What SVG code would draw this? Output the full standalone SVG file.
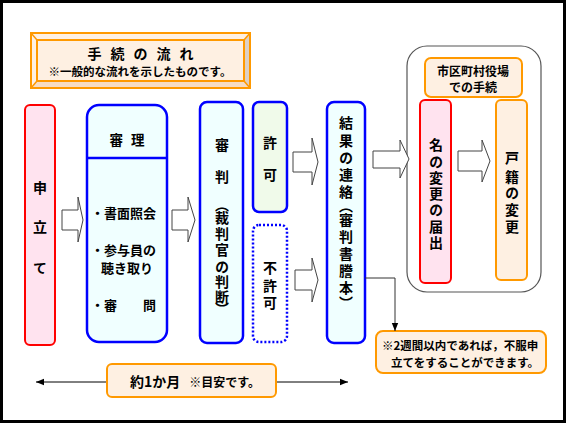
<svg xmlns="http://www.w3.org/2000/svg" width="566" height="424" viewBox="0 0 566 424">
<defs>
<style>
text{font-family:"Noto Sans CJK JP","Noto Sans CJK SC",sans-serif;font-weight:bold;fill:#000}
.v{writing-mode:vertical-rl;text-anchor:middle;font-size:14px}
.h{text-anchor:middle}
.blk{fill:#fff;stroke:#444;stroke-width:1}
.red{fill:#FFE3EF;stroke:#FF0000;stroke-width:2}
.blue{fill:#F0FFFF;stroke:#0000FF;stroke-width:2.5}
.grn{fill:#F0FAEA;stroke:#0000FF;stroke-width:2.5}
.dot{fill:#fff;stroke:#0000FF;stroke-width:2.5;stroke-dasharray:2 2}
.org{fill:#FEF0E2;stroke:#FF9900;stroke-width:2}
</style>
<marker id="ah" viewBox="0 0 10 10" refX="10" refY="5" markerWidth="8" markerHeight="8" markerUnits="userSpaceOnUse" orient="auto-start-reverse"><path d="M0,1 L10,5 L0,9 Z" fill="#000"/></marker>
</defs>
<rect x="1.5" y="1.5" width="563" height="420" fill="#fff" stroke="#000" stroke-width="3"/>

<g id="title">
<rect x="31" y="33" width="219" height="55" fill="#FEF0E2" stroke="#FF9900" stroke-width="2"/>
<polygon points="244,40 250,33 250,88 244,81" fill="#DDD0C4"/>
<polygon points="37,81 244,81 250,88 31,88" fill="#F6DCC4"/>
<rect x="31" y="33" width="219" height="55" fill="none" stroke="#FF9900" stroke-width="2"/>
<rect x="37" y="40" width="207" height="41" fill="none" stroke="#FF9900" stroke-width="2"/>
<path d="M31,33 L37,40 M250,33 L244,40 M31,88 L37,81 M250,88 L244,81" stroke="#FF9900" stroke-width="1.5"/>
<text class="h" x="145" y="59" font-size="14" letter-spacing="9">手続の流れ</text>
<text class="h" x="140" y="76" font-size="11.5">※一般的な流れを示したものです。</text>
</g>

<g id="moushitate">
<rect class="red" x="25" y="105" width="30" height="240" rx="5"/>
<text class="v" x="40" y="188 227 268">申立て</text>
</g>

<g id="shinri">
<rect class="blue" x="87" y="105" width="80" height="237" rx="12"/>
<line x1="87" y1="158" x2="167" y2="158" stroke="#0000FF" stroke-width="2.5"/>
<text class="h" x="131" y="145" font-size="13.5" letter-spacing="8">審理</text>
<text x="91" y="218" font-size="13">・書面照会</text>
<text x="91" y="255" font-size="13">・参与員の</text>
<text x="101" y="273" font-size="13">聴き取り</text>
<text x="91" y="310" font-size="13">・審　　問</text>
</g>

<g id="shinpan">
<rect class="blue" x="200" y="102" width="43" height="241" rx="7"/>
<text class="v" x="222" y="145 177 205 218 234 250 267 282 297 309">審判（裁判官の判断）</text>
</g>

<g id="kyoka">
<rect class="grn" x="253" y="102" width="34" height="110" rx="6"/>
<text class="v" x="270" y="143 175">許可</text>
</g>

<g id="fukyoka">
<rect class="dot" x="253" y="225" width="34" height="117" rx="6"/>
<text class="v" x="270" y="268 286 303">不許可</text>
</g>

<g id="kekka">
<rect class="blue" x="327" y="102" width="38" height="241" rx="7"/>
<text class="v" x="346" y="123 141 158 175 192 206 220 237 254 271 288 303">結果の連絡（審判書謄本）</text>
</g>

<g id="shikuchoson">
<rect x="407" y="46" width="134" height="246" rx="20" fill="#fff" stroke="#555" stroke-width="1.2"/>
<rect class="org" x="425" y="58" width="97" height="39" rx="6"/>
<text class="h" x="473" y="76" font-size="12">市区町村役場</text>
<text class="h" x="473" y="92" font-size="12">での手続</text>
</g>

<g id="todokede">
<rect class="red" x="420" y="100" width="31" height="183" rx="5"/>
<text class="v" x="436" y="145 162 178 194 210 227 243">名の変更の届出</text>
</g>

<g id="koseki">
<rect class="org" x="496" y="100" width="31" height="180" rx="5"/>
<text class="v" x="512" y="158 177 193 210 227">戸籍の変更</text>
</g>

<g id="note">
<rect class="org" x="376" y="331" width="170" height="42" rx="7"/>
<text x="382" y="350" font-size="11.5">※2週間以内であれば，不服申</text>
<text x="391" y="367" font-size="11.5">立てをすることができます。</text>
</g>

<g id="connectors">
<polygon class="blk" points="62,210 78,210 78,197 83,220 78,242 78,230 62,230"/>
<polygon class="blk" points="172,210 188,210 188,197 195,220 188,242 188,230 172,230"/>
<polygon class="blk" points="293,152 312,152 312,138 318,162 312,185 312,172 293,172"/>
<polygon class="blk" points="295,270 312,270 312,258 318,280 312,302 312,290 295,290"/>
<polygon class="blk" points="373,151 400,151 400,140 409,159 400,178 400,168 373,168"/>
<polygon class="blk" points="458,151 482,151 482,140 490,161 482,182 482,171 458,171"/>
<polyline points="365,278 395,278 395,331" fill="none" stroke="#333" stroke-width="1" marker-end="url(#ah)"/>
<line x1="36" y1="382" x2="348" y2="382" stroke="#000" stroke-width="1" marker-start="url(#ah)" marker-end="url(#ah)"/>
</g>

<g id="period">
<rect class="org" x="107" y="364" width="169" height="33" rx="5"/>
<text x="130" y="387"><tspan font-size="14">約1か月</tspan><tspan font-size="12" dx="9">※目安です。</tspan></text>
</g>
</svg>
